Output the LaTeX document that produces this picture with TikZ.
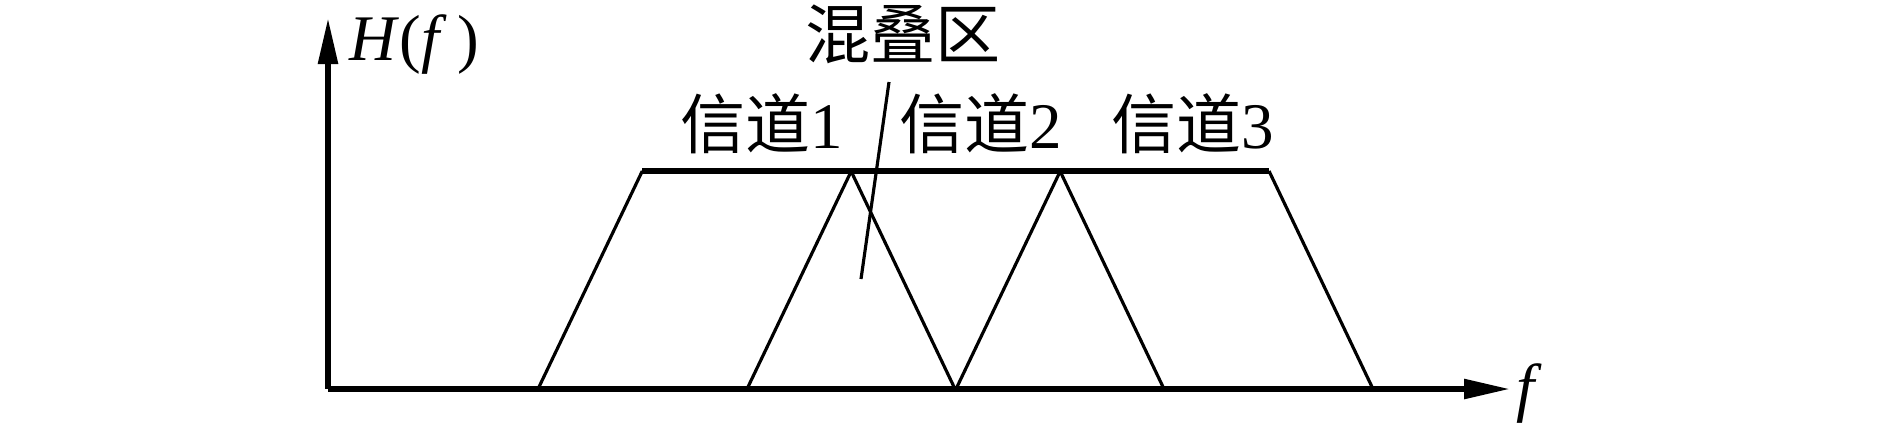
\documentclass[tikz,border=0pt]{standalone}
\usepackage{fontspec}
\setmainfont{Liberation Serif}
\newfontfamily\cjk{Noto Sans CJK SC}
\usetikzlibrary{arrows.meta}

\begin{document}
\begin{tikzpicture}[x=0.01cm,y=0.01cm,
  axisline/.style={line width=1.6pt,-{Triangle[length=4.6mm,width=1.9mm]}},
  chanline/.style={line width=0.9pt},
  topline/.style={line width=1.6pt},
  lbl/.style={font=\fontsize{18.5}{20}\selectfont,inner sep=0pt}]
\useasboundingbox (0,0) rectangle (1889,423);
\coordinate (O) at (328,34);
\coordinate (ytip) at (328,405);
\coordinate (xtip) at (1510,34);
\draw[axisline] (O) -- (ytip);
\draw[axisline] (O) -- (xtip);
\node[lbl,anchor=west] (Hf) at (349,378) {\textit{H}(\textit{f}\,)};
\node[lbl,anchor=base west] (fx) at (1516,14) {\textit{f}};
\foreach \i/\x in {1/538,2/747,3/956}{
  \coordinate (bl\i) at (\x,34);
  \coordinate (tl\i) at (\x+104.3,252);
  \coordinate (tr\i) at (\x+313,252);
  \coordinate (br\i) at (\x+417,34);
  \draw[chanline] (bl\i) -- (tl\i);
  \draw[chanline] (tr\i) -- (br\i);
}
\draw[topline] (tl1) -- (tr3);
\node[lbl] (ch1) at (762,299) {{\cjk 信道}1};
\node[lbl] (ch2) at (981,299) {{\cjk 信道}2};
\node[lbl] (ch3) at (1193,299) {{\cjk 信道}3};
\node[lbl] (alias) at (903,389) {\cjk 混叠区};
\coordinate (leadtop) at (889,341);
\coordinate (leadend) at (861,144);
\draw[chanline] (leadtop) -- (leadend);
\end{tikzpicture}
\end{document}
